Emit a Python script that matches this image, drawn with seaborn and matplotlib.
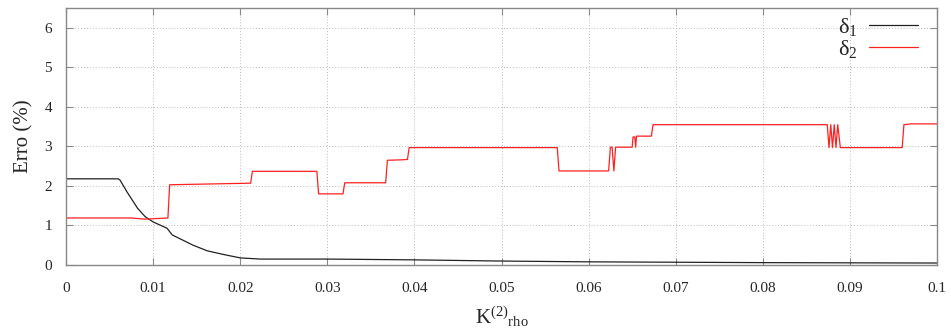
import matplotlib
matplotlib.use("Agg")
import matplotlib.pyplot as plt
import seaborn as sns

# %% data
k_delta1 = [0, 0.006, 0.0062, 0.007, 0.0082, 0.0091, 0.010, 0.0116, 0.0122,
            0.0146, 0.0162, 0.018, 0.020, 0.0223, 0.03, 0.04, 0.05, 0.06,
            0.07, 0.08, 0.09, 0.1]
err_delta1 = [2.18, 2.18, 2.15, 1.85, 1.44, 1.22, 1.09, 0.93, 0.76,
              0.50, 0.36, 0.27, 0.18, 0.15, 0.15, 0.13, 0.10, 0.08,
              0.07, 0.06, 0.055, 0.05]

k_delta2 = [0, 0.0075, 0.009, 0.0117, 0.0119, 0.0212, 0.0214, 0.0288, 0.0290,
            0.0318, 0.0320, 0.0367, 0.0369, 0.0385, 0.0392, 0.0394, 0.0564,
            0.0566, 0.0623, 0.0625, 0.0627, 0.0629, 0.0631, 0.0650, 0.0651,
            0.0653, 0.0654, 0.0655, 0.0672, 0.0674, 0.0874, 0.0876, 0.0878,
            0.0880, 0.0882, 0.0884, 0.0886, 0.0889, 0.0960, 0.0962, 0.0970, 0.1]
err_delta2 = [1.19, 1.19, 1.16, 1.19, 2.03, 2.07, 2.37, 2.37, 1.80,
              1.80, 2.08, 2.08, 2.65, 2.66, 2.67, 2.97, 2.97,
              2.38, 2.38, 2.98, 2.98, 2.38, 2.98, 2.98, 3.24,
              3.24, 2.98, 3.26, 3.26, 3.55, 3.55, 2.97, 3.55,
              2.97, 3.55, 2.97, 3.55, 2.97, 2.97, 3.55, 3.57, 3.57]

x_ticks = [0, 0.01, 0.02, 0.03, 0.04, 0.05, 0.06, 0.07, 0.08, 0.09, 0.1]
x_ticklabels = ["0", "0.01", "0.02", "0.03", "0.04", "0.05", "0.06", "0.07",
                "0.08", "0.09", "0.1"]
y_ticks = [0, 1, 2, 3, 4, 5, 6]

# %% style
sns.set_style("ticks")
plt.rcParams["font.family"] = ["Liberation Serif", "DejaVu Serif"]
plt.rcParams["mathtext.fontset"] = "custom"
plt.rcParams["mathtext.rm"] = "Liberation Serif"
plt.rcParams["mathtext.it"] = "Liberation Serif"

fig = plt.figure(figsize=(9.51, 3.36), dpi=100)
ax = fig.add_axes([0.0694, 0.2113, 0.9159, 0.7647])

sns.lineplot(x=k_delta1, y=err_delta1, estimator=None, sort=False,
             color="#222222", lw=0.9, label="δ$_1$", ax=ax)
sns.lineplot(x=k_delta2, y=err_delta2, estimator=None, sort=False,
             color="#ff2020", lw=0.9, label="δ$_2$", ax=ax)

ax.set_xlim(0, 0.1)
ax.set_ylim(0, 6.5)
ax.set_xticks(x_ticks)
ax.set_xticklabels(x_ticklabels)
ax.set_yticks(y_ticks)
ax.tick_params(direction="in", top=True, right=True, length=5, width=0.8,
               color="#888888", labelsize=11)
ax.tick_params(axis="x", pad=12)
ax.tick_params(axis="y", pad=10)
ax.grid(True, linestyle=(0, (1, 2)), color="#bbbbbb", lw=0.7)
for sp in ax.spines.values():
    sp.set_color("#888888")
    sp.set_linewidth(1)

ax.set_xlabel(r"K$^{(2)}$$_{\rm rho}$", fontsize=15, labelpad=7)
ax.set_ylabel("Erro (%)", fontsize=15, labelpad=8)

leg = ax.legend(loc="upper right", frameon=False, markerfirst=False,
                fontsize=16, handlelength=2.2, handletextpad=0.5,
                labelspacing=0.0, borderaxespad=0.0,
                bbox_to_anchor=(0.988, 1.005))

fig.savefig("out.png", dpi=100)
